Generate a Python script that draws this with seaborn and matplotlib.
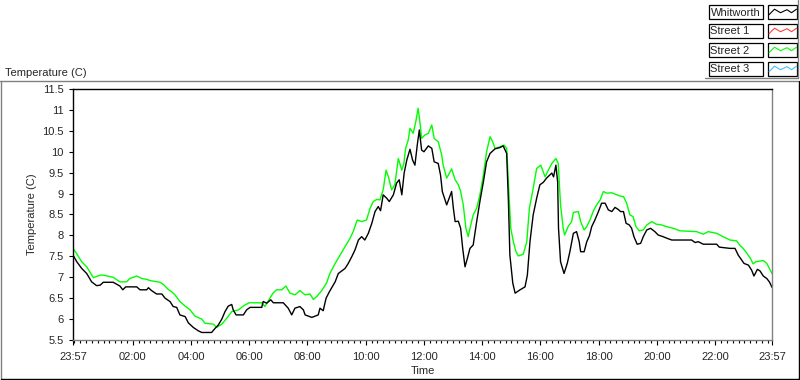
import matplotlib
matplotlib.use("Agg")
import matplotlib.pyplot as plt
from matplotlib.patches import Rectangle
from matplotlib.ticker import FixedLocator, MultipleLocator, FormatStrFormatter
import pandas as pd
import seaborn as sns

# ---------------- data ----------------
series_names = ["Whitworth", "Street 1", "Street 2", "Street 3"]
series_colors = ["#000000", "#ff4040", "#00ff00", "#40c0ff"]

# hours since midnight (23:57 previous day = -0.05)
whitworth_hours = [
    -0.05, 0.08, 0.25, 0.42, 0.59, 0.76, 0.88, 0.99, 1.33, 1.56, 1.66, 1.76, 2.14, 2.25, 2.48,
    2.54, 2.65, 2.82, 3.00, 3.11, 3.28, 3.39, 3.51, 3.62, 3.80, 3.91, 4.08, 4.25, 4.37, 4.71,
    4.83, 4.94, 5.06, 5.17, 5.28, 5.40, 5.45, 5.55, 5.80, 5.91, 6.03, 6.43, 6.48, 6.60, 6.74,
    6.83, 7.17, 7.34, 7.46, 7.57, 7.74, 7.86, 7.92, 8.15, 8.37, 8.43, 8.54, 8.64, 8.75, 8.95,
    9.06, 9.29, 9.40, 9.52, 9.63, 9.75, 9.86, 9.97, 10.09, 10.21, 10.32, 10.43, 10.51, 10.60,
    10.72, 10.81, 10.95, 11.06, 11.15, 11.24, 11.32, 11.41, 11.52, 11.61, 11.69, 11.77, 11.84,
    11.92, 12.00, 12.15, 12.27, 12.35, 12.49, 12.57, 12.63, 12.78, 12.95, 13.01, 13.07, 13.18,
    13.26, 13.33, 13.41, 13.49, 13.58, 13.69, 13.81, 13.92, 14.04, 14.15, 14.27, 14.44, 14.61,
    14.72, 14.84, 14.90, 14.95, 15.05, 15.13, 15.30, 15.47, 15.55, 15.64, 15.75, 15.87, 15.98,
    16.10, 16.21, 16.39, 16.45, 16.53, 16.59, 16.62, 16.69, 16.81, 16.92, 17.01, 17.13, 17.24,
    17.33, 17.38, 17.50, 17.59, 17.68, 17.76, 17.87, 17.99, 18.10, 18.22, 18.33, 18.45, 18.56,
    18.67, 18.75, 18.85, 18.94, 19.05, 19.13, 19.21, 19.32, 19.44, 19.53, 19.65, 19.78, 19.93,
    20.04, 20.21, 20.35, 20.51, 21.19, 21.31, 21.42, 21.59, 22.05, 22.14, 22.51, 22.68, 22.79,
    22.91, 22.99, 23.14, 23.25, 23.33, 23.45, 23.54, 23.65, 23.77, 23.86, 23.95,
]
whitworth_temp = [
    7.53, 7.37, 7.21, 7.09, 6.89, 6.80, 6.81, 6.88, 6.88, 6.79, 6.70, 6.77, 6.77, 6.70, 6.70,
    6.75, 6.68, 6.60, 6.60, 6.50, 6.42, 6.30, 6.28, 6.10, 6.06, 5.91, 5.80, 5.72, 5.68, 5.68,
    5.78, 5.86, 6.00, 6.18, 6.31, 6.35, 6.22, 6.10, 6.10, 6.22, 6.28, 6.28, 6.42, 6.38, 6.46,
    6.39, 6.39, 6.26, 6.10, 6.26, 6.30, 6.22, 6.10, 6.04, 6.10, 6.26, 6.20, 6.50, 6.65, 6.89,
    7.09, 7.21, 7.33, 7.49, 7.65, 7.89, 7.97, 7.89, 8.05, 8.29, 8.57, 8.69, 8.59, 8.97,
    8.89, 8.81, 8.97, 9.25, 9.33, 8.97, 9.49, 9.80, 10.06, 9.80, 9.68, 10.16, 10.52,
    10.04, 10.00, 10.14, 10.08, 9.76, 9.72, 9.44, 9.05, 8.73, 9.05, 8.65, 8.33, 8.34,
    8.17, 7.69, 7.25, 7.45, 7.69, 7.77, 8.33, 8.81, 9.28, 9.76, 9.96, 10.07, 10.10,
    10.14, 9.96, 8.81, 7.53, 6.86, 6.62, 6.70, 6.77, 7.05, 7.85, 8.49, 8.89, 9.21,
    9.27, 9.37, 9.49, 9.40, 9.68, 9.28, 8.17, 7.37, 7.09, 7.33, 7.61, 8.05, 8.09,
    7.85, 7.61, 7.61, 7.85, 7.99, 8.21, 8.37, 8.57, 8.77, 8.77, 8.61, 8.57, 8.67,
    8.62, 8.57, 8.57, 8.29, 8.25, 8.17, 7.97, 7.79, 7.81, 7.97, 8.13, 8.17, 8.09,
    8.01, 7.97, 7.93, 7.89, 7.89, 7.83, 7.85, 7.79, 7.79, 7.72, 7.69, 7.69, 7.53,
    7.41, 7.33, 7.29, 7.17, 7.03, 7.19, 7.15, 7.03, 6.97, 6.89, 6.76,
]

street2_hours = [
    -0.05, 0.08, 0.25, 0.42, 0.56, 0.65, 0.88, 0.99, 1.33, 1.56, 1.79, 1.90, 2.14, 2.31, 2.48,
    2.60, 2.94, 3.05, 3.22, 3.34, 3.45, 3.62, 3.80, 3.97, 4.14, 4.37, 4.48, 4.77, 4.88, 5.06,
    5.23, 5.40, 5.63, 5.74, 5.86, 6.00, 6.43, 6.54, 6.71, 6.83, 6.94, 7.12, 7.26, 7.40, 7.57,
    7.74, 7.92, 8.09, 8.20, 8.32, 8.49, 8.66, 8.77, 8.95, 9.12, 9.29, 9.46, 9.57, 9.71, 9.86,
    10.03, 10.15, 10.26, 10.38, 10.49, 10.60, 10.70, 10.78, 10.89, 11.00, 11.12, 11.24, 11.31,
    11.37, 11.46, 11.52, 11.63, 11.72, 11.80, 11.86, 11.92, 12.03, 12.15, 12.27, 12.35, 12.49,
    12.61, 12.66, 12.78, 12.95, 13.07, 13.18, 13.26, 13.35, 13.44, 13.52, 13.58, 13.69, 13.81,
    13.92, 14.04, 14.15, 14.27, 14.36, 14.44, 14.61, 14.75, 14.84, 14.90, 14.98, 15.07, 15.16,
    15.24, 15.41, 15.53, 15.62, 15.73, 15.87, 16.01, 16.16, 16.27, 16.39, 16.53, 16.61, 16.69,
    16.78, 16.83, 16.95, 17.07, 17.13, 17.30, 17.38, 17.50, 17.59, 17.70, 17.82, 17.93, 18.05,
    18.16, 18.27, 18.45, 18.62, 18.73, 18.85, 18.96, 19.07, 19.18, 19.28, 19.39, 19.53, 19.65,
    19.82, 19.97, 20.16, 20.33, 20.56, 20.79, 21.36, 21.59, 21.76, 22.05, 22.27, 22.51, 22.73,
    22.84, 22.96, 23.09, 23.21, 23.30, 23.39, 23.65, 23.77, 23.95,
]
street2_temp = [
    7.69, 7.56, 7.37, 7.25, 7.09, 6.99, 7.05, 7.05, 7.00, 6.89, 6.89, 6.97, 7.03, 6.97, 6.95,
    6.92, 6.88, 6.83, 6.71, 6.65, 6.58, 6.42, 6.31, 6.22, 6.07, 6.00, 5.90, 5.88, 5.80, 5.88,
    6.02, 6.18, 6.22, 6.28, 6.34, 6.39, 6.39, 6.30, 6.50, 6.63, 6.70, 6.70, 6.79, 6.62, 6.58,
    6.68, 6.58, 6.60, 6.47, 6.54, 6.68, 6.87, 7.09, 7.33, 7.53, 7.73, 7.93, 8.09, 8.37, 8.33,
    8.37, 8.65, 8.81, 8.86, 8.85, 9.09, 9.56, 9.40, 9.09, 9.21, 9.84, 9.56, 9.72,
    10.08, 10.28, 10.56, 10.44, 10.72, 11.04, 10.72, 10.32, 10.40, 10.44, 10.64, 10.32, 10.24,
    9.92, 9.68, 9.37, 9.59, 9.33, 9.21, 9.05, 8.73, 8.17, 7.97, 8.17, 8.49, 8.65,
    8.97, 9.44, 10.00, 10.36, 10.24, 10.08, 10.12, 10.16, 10.08, 9.28, 8.17, 7.85, 7.61,
    7.51, 7.55, 7.85, 8.65, 9.05, 9.60, 9.68, 9.40, 9.56, 9.72, 9.84, 9.72, 8.73,
    8.17, 8.01, 8.21, 8.33, 8.55, 8.57, 8.33, 8.13, 8.21, 8.37, 8.59, 8.73, 8.85,
    9.05, 9.01, 9.02, 8.97, 8.94, 8.93, 8.77, 8.49, 8.45, 8.21, 8.11, 8.13, 8.25,
    8.33, 8.27, 8.25, 8.21, 8.17, 8.11, 8.09, 8.03, 8.09, 8.05, 7.97, 7.89, 7.87,
    7.77, 7.69, 7.57, 7.45, 7.32, 7.37, 7.40, 7.33, 7.09,
]

x_tick_labels = ["23:57", "02:00", "04:00", "06:00", "08:00", "10:00", "12:00",
                 "14:00", "16:00", "18:00", "20:00", "22:00", "23:57"]
y_tick_values = [5.5, 6, 6.5, 7, 7.5, 8, 8.5, 9, 9.5, 10, 10.5, 11, 11.5]

# ---------------- style ----------------
sns.set_style("white")
plt.rcParams["font.family"] = ["Liberation Sans", "DejaVu Sans"]
plt.rcParams["font.size"] = 8

W, H = 800, 380
fig = plt.figure(figsize=(W / 100, H / 100), dpi=100)
fig.patch.set_facecolor("white")

# overlay in pixel coordinates for frame / legend decorations
ov = fig.add_axes([0, 0, 1, 1])
ov.set_xlim(0, W)
ov.set_ylim(H, 0)
ov.axis("off")
ov.set_zorder(0)

ax = fig.add_axes([73 / W, 1 - 340 / H, 699 / W, 251 / H])
ax.set_zorder(1)
ax.set_facecolor("white")

df = pd.concat([
    pd.DataFrame({"time": whitworth_hours, "temp": whitworth_temp, "series": "Whitworth"}),
    pd.DataFrame({"time": street2_hours, "temp": street2_temp, "series": "Street 2"}),
], ignore_index=True)

palette = dict(zip(series_names, series_colors))
sns.lineplot(data=df, x="time", y="temp", hue="series",
             hue_order=["Street 2", "Whitworth"], palette=palette,
             estimator=None, sort=False, legend=False, linewidth=1.0, ax=ax)

start, end = -0.05, 23.95
ax.set_xlim(start, end)
ax.set_ylim(y_tick_values[0], y_tick_values[-1])
major_pos = [start] + list(range(2, 23, 2)) + [end]
ax.xaxis.set_major_locator(FixedLocator(major_pos))
ax.set_xticklabels(x_tick_labels)
ax.xaxis.set_minor_locator(MultipleLocator(0.2))
ax.yaxis.set_major_locator(FixedLocator(y_tick_values))
ax.yaxis.set_major_formatter(FormatStrFormatter("%g"))

ax.tick_params(axis="y", which="major", direction="out", length=3.2, width=0.8,
               color="black", pad=3.5, labelsize=8, left=True)
ax.tick_params(axis="x", which="major", direction="out", length=3.8, width=0.8,
               color="black", pad=4.5, labelsize=8, bottom=True)
ax.tick_params(axis="x", which="minor", direction="out", length=2.4, width=0.8,
               color="black", bottom=True)

ax.set_xlabel("Time", fontsize=8, labelpad=3)
ax.set_ylabel("Temperature (C)", fontsize=8, labelpad=3.5)

for side, col in [("left", "black"), ("top", "black"),
                  ("bottom", "#808080"), ("right", "#808080")]:
    ax.spines[side].set_visible(True)
    ax.spines[side].set_color(col)
    ax.spines[side].set_linewidth(1.0)

# outer frame
ov.plot([0, 798], [81, 81], color="#808080", lw=1.0)
ov.plot([1, 1], [81, 379], color="#808080", lw=1.0)
ov.plot([1, 799], [379, 379], color="black", lw=1.0)
ov.plot([799, 799], [81, 379], color="black", lw=1.0)
ov.text(5, 72.5, "Temperature (C)", fontsize=8, ha="left", va="center")

# legend panel
ov.plot([705, 798], [78, 78], color="#808080", lw=1.0)
ov.plot([798, 798], [0, 78], color="#808080", lw=1.0)
zig_dx = [1.5, 7, 13, 19.5, 24, 29]
zig_dy = [10, 4.5, 8, 5, 8, 4.5]
for i, (name, col) in enumerate(zip(series_names, series_colors)):
    y0 = 4.7 + i * 19
    ov.add_patch(Rectangle((708.5, y0), 54, 14, facecolor="white",
                           edgecolor="black", lw=0.9))
    ov.text(710.5, y0 + 7.8, name, fontsize=8, ha="left", va="center")
    ov.add_patch(Rectangle((767.5, y0), 29.5, 14, facecolor="white",
                           edgecolor="black", lw=0.9))
    ov.plot([767.5 + d for d in zig_dx], [y0 + d for d in zig_dy],
            color=col, lw=0.8)

fig.savefig("out.png", dpi=100, facecolor="white")
